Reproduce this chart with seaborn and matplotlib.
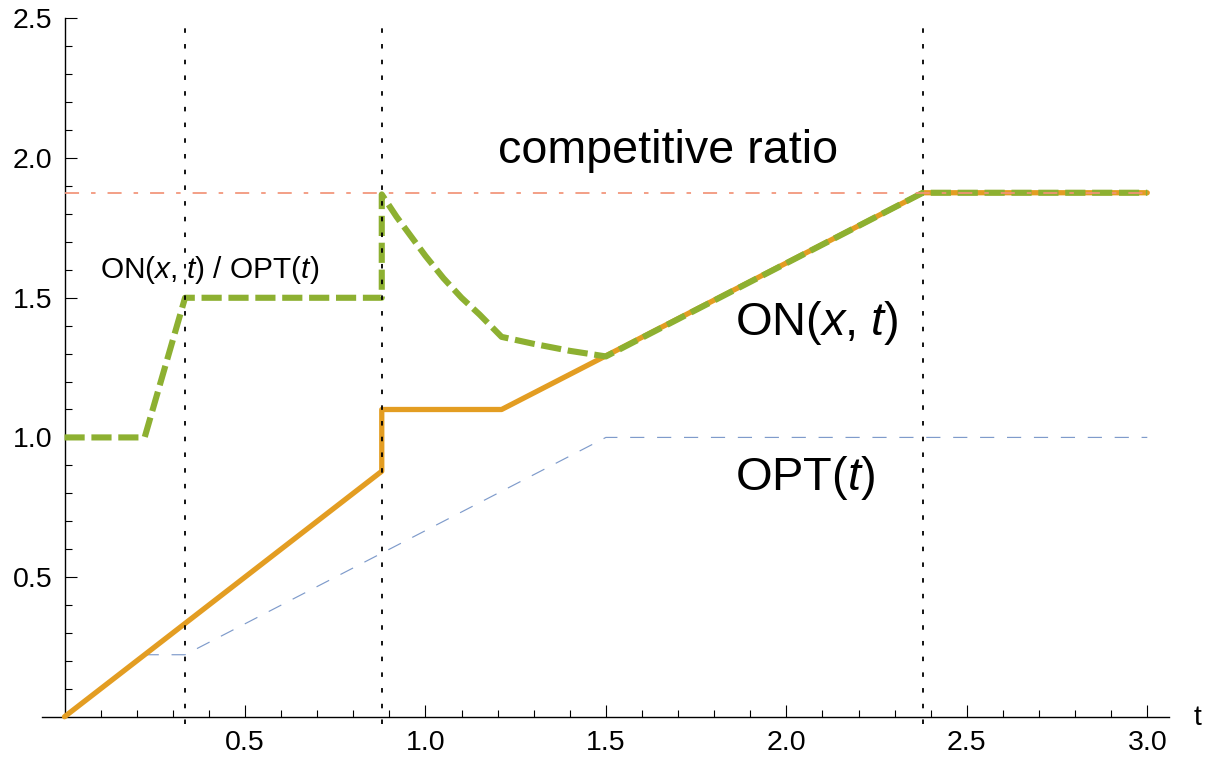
import matplotlib
matplotlib.use("Agg")
import matplotlib.pyplot as plt
import numpy as np
import seaborn as sns
from matplotlib.ticker import FixedLocator

# Online cost ON(x, t)
t_on = [0.0, 0.879, 0.879, 1.211, 2.378, 3.0]
on_vals = [0.0, 0.879, 1.10, 1.10, 1.876, 1.876]

# Offline optimum OPT(t)
t_opt = [0.222, 0.334, 1.5, 3.0]
opt_vals = [0.222, 0.222, 1.0, 1.0]

# Ratio ON(x, t) / OPT(t)
t_ratio = [0.0, 0.222, 0.334, 0.879, 0.879, 0.92, 0.96, 1.0, 1.05, 1.1,
           1.15, 1.211, 1.3, 1.4, 1.5, 2.378, 3.0]
ratio_vals = [1.0, 1.0, 1.5, 1.5, 1.87, 1.79, 1.72, 1.65, 1.57, 1.50,
              1.44, 1.36, 1.335, 1.31, 1.29, 1.876, 1.876]

competitive_ratio = 1.876
ratio_span = [0.0, 3.0]
event_times = [0.334, 0.879, 2.378]

x_major = [0.5, 1.0, 1.5, 2.0, 2.5, 3.0]
x_labels = ["0.5", "1.0", "1.5", "2.0", "2.5", "3.0"]
y_major = [0.5, 1.0, 1.5, 2.0, 2.5]
y_labels = ["0.5", "1.0", "1.5", "2.0", "2.5"]

sns.set_style("ticks")
plt.rcParams["font.family"] = ["Liberation Sans", "DejaVu Sans"]
plt.rcParams["text.color"] = "black"
plt.rcParams["mathtext.fontset"] = "custom"
plt.rcParams["mathtext.rm"] = "Liberation Sans"
plt.rcParams["mathtext.it"] = "Liberation Sans:italic"

fig = plt.figure(figsize=(12.11, 7.58), dpi=100)
ax = fig.add_axes([0.03509, 0.04485, 0.93048, 0.93080])
ax.set_xlim(-0.061, 3.061)
ax.set_ylim(-0.026, 2.5)

# axes crossing at the origin
for side in ("top", "right"):
    ax.spines[side].set_visible(False)
ax.spines["left"].set_position(("data", 0))
ax.spines["bottom"].set_position(("data", 0))
ax.spines["left"].set_bounds(0, 2.5)
for side in ("left", "bottom"):
    ax.spines[side].set_linewidth(1.0)
    ax.spines[side].set_color("black")

ax.xaxis.set_major_locator(FixedLocator(x_major))
ax.set_xticklabels(x_labels)
ax.yaxis.set_major_locator(FixedLocator(y_major))
ax.set_yticklabels(y_labels)
x_minor = [v for v in np.round(np.arange(0.1, 3.0, 0.1), 2) if v not in x_major]
y_minor = [v for v in np.round(np.arange(0.1, 2.5, 0.1), 2) if v not in y_major]
ax.xaxis.set_minor_locator(FixedLocator(x_minor))
ax.yaxis.set_minor_locator(FixedLocator(y_minor))
ax.tick_params(which="major", direction="in", length=8.6, width=0.8,
               labelsize=20.5, color="black", labelcolor="black")
ax.tick_params(which="minor", direction="in", length=5, width=0.8, color="black")
ax.tick_params(axis="x", which="major", pad=9.5)
ax.tick_params(axis="y", which="major", pad=8.5)

# curves
sns.lineplot(x=t_opt, y=opt_vals, ax=ax, color="#7F9BCB", linewidth=0.85,
             linestyle=(0, (12.0, 10.8)), estimator=None, sort=False, zorder=2)
sns.lineplot(x=t_on, y=on_vals, ax=ax, color="#E39D22", linewidth=3.8,
             estimator=None, sort=False, zorder=3)
sns.lineplot(x=t_ratio, y=ratio_vals, ax=ax, color="#8DB031", linewidth=4.4,
             linestyle=(0, (3.3, 1.1)), estimator=None, sort=False, zorder=4)

ax.hlines(competitive_ratio, ratio_span[0], ratio_span[1], colors="#F29378",
          linewidth=1.25, linestyles=[(0, (8.1, 6.9, 2.6, 6.9))], zorder=5)
for tv in event_times:
    ax.axvline(tv, color="black", linewidth=1.3, linestyle=(0, (2.5, 6.2)), zorder=6)

# annotations
ax.text(1.201, 1.981, "competitive ratio", fontsize=33.6, ha="left", va="baseline")
ax.text(1.858, 1.367, r"ON($x$, $t$)", fontsize=33.8, ha="left", va="baseline")
ax.text(1.858, 0.812, r"OPT($t$)", fontsize=33.8, ha="left", va="baseline")
ax.text(0.0986, 1.570, r"ON($x$, $t$) / OPT($t$)", fontsize=21.5,
        ha="left", va="baseline")
ax.text(3.138, -0.030, "t", fontsize=20.5, ha="center", va="baseline", clip_on=False)

fig.savefig("out.png", dpi=100)
